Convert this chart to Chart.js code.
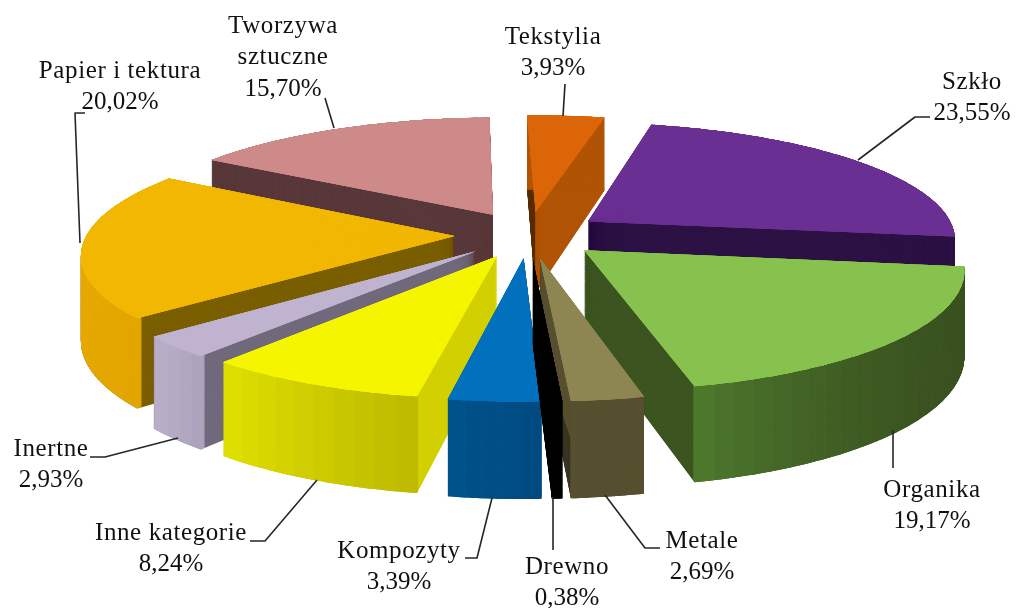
<!DOCTYPE html>
<html lang="pl">
<head>
<meta charset="utf-8">
<title>Skład odpadów</title>
<script src="https://cdn.jsdelivr.net/npm/chart.js@4"></script>
<style>html,body{margin:0;padding:0;background:#fff}canvas{display:block}</style>
</head>
<body>
<canvas id="c" width="1016" height="608"></canvas>
<script>
// ---- data ----
const categories = ['Tekstylia','Szkło','Organika','Metale','Drewno','Kompozyty','Inne kategorie','Inertne','Papier i tektura','Tworzywa sztuczne'];
const shares     = [3.93,23.55,19.17,2.69,0.38,3.39,8.24,2.93,20.02,15.70];
// ---- colours ----
const topColors   = ['#dc6508','#6a2f93','#88c24e','#8d8552','#000000','#0170bd','#f5f500','#bfb3cf','#f2b700','#ce8a88'];
const cutColors   = ['#b05405','#2d1245','#3b5420','#575030','#000000','#004e85','#d2d000','#716a7c','#7a5f00','#59383a'];
const outerFrom   = ['#b05405','#2d1245','#4f7a2e','#575030','#000000','#00548c','#e0e000','#bbb0ca','#e8ab00','#59383a'];
const outerTo     = ['#b05405','#2d1245','#3b5321','#575030','#000000','#004a80','#bdb900','#aca2ba','#e3a600','#59383a'];
const outerBias   = [1,1,3,1,1,1,1,1,1,1];
const edgeColors  = ['#5a2f00',null,null,'#3a3520',null,null,null,null,null,null];
const edgeAtStart = [true,false,false,false,false,false,false,false,false,false];
// ---- layout ----
const view = {cx:528.5, cy:234.5, fx:368, fy:116, persp:0.14, explode:0.2, depthBase:73, depthAt:117, depthSlope:0.085, radius:100, rotation:-1.4};
const labelFont = '25px "Liberation Serif"';
const nameSpacing = '0.6px';
const labelLines = [['Tekstylia'],['Szkło'],['Organika'],['Metale'],['Drewno'],['Kompozyty'],['Inne kategorie'],['Inertne'],['Papier i tektura'],['Tworzywa','sztuczne']];
const labelX = [553,972,932,702,567,399,171,51,120,283];
const labelY = [37,82,490,541,567,551,533,449,71,26];
const leaders = [
 [[563,116],[565,84]],
 [[858,160],[915,117],[930,117]],
 [[893,430],[893,468]],
 [[605,495],[645,548],[660,548]],
 [[553,497],[553,550]],
 [[492,498],[477,558],[465,558]],
 [[317,480],[265,541],[250,541]],
 [[178,438],[105,457],[90,457]],
 [[80,243],[75,113],[85,113]],
 [[334,128],[325,98]]
];

function project(ux, uy){
  const w = 1 + view.persp*uy;
  return [view.cx + view.fx*ux/w, view.cy - view.fy*uy/w];
}
function depthAt(y){ return view.depthBase + view.depthSlope*(y - view.depthAt); }
function mix(a,b,t){
  const p=s=>[1,3,5].map(i=>parseInt(s.substr(i,2),16));
  const A=p(a),B=p(b);
  return 'rgb('+A.map((v,i)=>Math.round(v+(B[i]-v)*t)).join(',')+')';
}
// Paint one angular piece of a slice through the Arc element's own draw()
function paintSector(ctx, arc, a0, a1, mid, color, t, innerFrac){
  const R = arc.outerRadius, x = arc.x, y = arc.y;
  const ox = view.explode*Math.cos(mid), oy = view.explode*Math.sin(mid);
  const dst = (c,s)=>{
    const p = project(ox+c, -(oy+s));
    return [p[0], p[1] + t*depthAt(p[1])];
  };
  const O = dst(0,0), A = dst(Math.cos(a0),Math.sin(a0)), B = dst(Math.cos(a1),Math.sin(a1));
  const v1=[R*Math.cos(a0),R*Math.sin(a0)], v2=[R*Math.cos(a1),R*Math.sin(a1)];
  const det = v1[0]*v2[1]-v1[1]*v2[0];
  const w1=[A[0]-O[0],A[1]-O[1]], w2=[B[0]-O[0],B[1]-O[1]];
  const m11=(w1[0]*v2[1]-w2[0]*v1[1])/det, m12=(w2[0]*v1[0]-w1[0]*v2[0])/det;
  const m21=(w1[1]*v2[1]-w2[1]*v1[1])/det, m22=(w2[1]*v1[0]-w1[1]*v2[0])/det;
  ctx.save();
  ctx.transform(m11,m21,m12,m22,O[0]-m11*x-m12*y,O[1]-m21*x-m22*y);
  const saved = {o:arc.options,s:arc.startAngle,e:arc.endAngle,c:arc.circumference,i:arc.innerRadius};
  arc.options = Object.assign({}, saved.o, {offset:0,spacing:0,borderWidth:0,backgroundColor:color,borderColor:color});
  arc.startAngle=a0; arc.endAngle=a1; arc.circumference=a1-a0; arc.innerRadius=innerFrac*R;
  arc.draw(ctx);
  arc.options=saved.o; arc.startAngle=saved.s; arc.endAngle=saved.e; arc.circumference=saved.c; arc.innerRadius=saved.i;
  ctx.restore();
}
const solid3d = {
  id:'solid3d',
  beforeDatasetDraw(chart){
    const ctx = chart.ctx, arcs = chart.getDatasetMeta(0).data;
    const step = 3*Math.PI/180, lap = 1*Math.PI/180, layers = 150;
    const order = arcs.map((a,i)=>i).sort((p,q)=>{
      const m=i=>(arcs[i].startAngle+arcs[i].endAngle)/2;
      return Math.sin(m(p))-Math.sin(m(q));
    });
    order.forEach(i=>{
      const arc=arcs[i], s=arc.startAngle, e=arc.endAngle, mid=(s+e)/2;
      const n=Math.max(1,Math.ceil((e-s)/step));
      const pieces=[];
      for(let k=0;k<n;k++) pieces.push([s+(e-s)*k/n, s+(e-s)*(k+1)/n, k]);
      if(edgeColors[i] && !edgeAtStart[i]) pieces.reverse();
      // cut faces
      pieces.forEach((p,idx)=>{
        const col = (edgeColors[i] && idx===0) ? edgeColors[i] : cutColors[i];
        for(let l=layers;l>=0;l-=1) paintSector(ctx,arc,p[0],p[1],mid,col,l/layers,0);
      });
      // rounded outer face
      for(let k=0;k<n;k++){
        const a0=s+(e-s)*k/n, a1=Math.min(e,s+(e-s)*(k+1)/n+lap);
        const col=mix(outerTo[i],outerFrom[i],Math.pow((k+0.5)/n,outerBias[i]));
        for(let l=layers;l>=0;l--) paintSector(ctx,arc,a0,a1,mid,col,l/layers,0.985);
      }
      // top face: repeated so the joins between pieces stay closed
      for(let r=0;r<3;r++) for(let k=0;k<n;k++){
        const a0=s+(e-s)*k/n, a1=Math.min(e,s+(e-s)*(k+1)/n+lap);
        paintSector(ctx,arc,a0,a1,mid,topColors[i],0,0);
      }
    });
    return false;
  },
  afterDraw(chart){
    const ctx=chart.ctx;
    ctx.save();
    ctx.strokeStyle='#262626'; ctx.lineWidth=1.6; ctx.lineJoin='round';
    leaders.forEach(path=>{
      ctx.beginPath();
      path.forEach((p,j)=>j?ctx.lineTo(p[0],p[1]):ctx.moveTo(p[0],p[1]));
      ctx.stroke();
    });
    ctx.fillStyle='#111'; ctx.font=labelFont; ctx.textAlign='center'; ctx.textBaseline='middle';
    categories.forEach((c,i)=>{
      labelLines[i].forEach((t,j)=>{ ctx.letterSpacing=nameSpacing; ctx.fillText(t,labelX[i],labelY[i]+j*31.5); });
      ctx.letterSpacing='0px';
      ctx.fillText(shares[i].toFixed(2).replace('.',',')+'%',labelX[i],labelY[i]+labelLines[i].length*31.5);
    });
    ctx.restore();
  }
};
new Chart(document.getElementById('c'),{
  type:'pie',
  data:{labels:categories,datasets:[{data:shares,backgroundColor:topColors,borderWidth:0,
        offset:view.explode*view.radius*4}]},
  options:{responsive:false,animation:false,devicePixelRatio:1,rotation:view.rotation,radius:view.radius,
    plugins:{legend:{display:false},tooltip:{enabled:false}},events:[]},
  plugins:[solid3d]
});
</script>
</body>
</html>
